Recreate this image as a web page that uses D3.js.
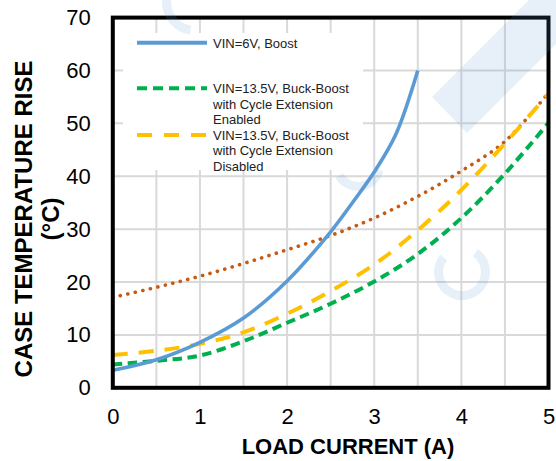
<!DOCTYPE html>
<html><head><meta charset="utf-8">
<script src="https://cdn.jsdelivr.net/npm/d3@7"></script>
<style>body{margin:0;background:#fff}svg{display:block}</style>
</head><body>
<svg id="c" width="556" height="461"></svg>
<script>
// ---- data ----
const xTicks = [0, 1, 2, 3, 4, 5];
const yTicks = [0, 10, 20, 30, 40, 50, 60, 70];
const xGrid = [0.5, 1, 1.5, 2, 2.5, 3, 3.5, 4, 4.5];
const yGrid = [10, 20, 30, 40, 50, 60];
const loadCurrent = [0, 0.5, 1, 1.5, 2, 2.5, 3, 3.5, 4, 4.5, 5];
const boostCurrent = [0, 0.5, 1, 1.5, 2, 2.5, 2.75, 3, 3.25, 3.5];
const boostRise = [3.3, 5.3, 8.6, 13.2, 20.2, 29.5, 35, 40.8, 48, 60];
const cycleExtEnabledRise = [4.4, 5.1, 6.1, 8.8, 12.3, 15.9, 20.1, 25.3, 32.1, 40.5, 50.1];
const cycleExtDisabledRise = [6.2, 7.0, 8.3, 10.5, 14.0, 18.3, 23.3, 29.8, 37.4, 46.2, 55.6];
const unlabeledRise = [17.1, 19.0, 21.1, 23.5, 26.1, 28.8, 32.1, 36.2, 41.0, 46.6, 55.8];
const legendLabels = [
  ["VIN=6V, Boost"],
  ["VIN=13.5V, Buck-Boost", "with Cycle Extension", "Enabled"],
  ["VIN=13.5V, Buck-Boost", "with Cycle Extension", "Disabled"]
];
const xTitle = "LOAD CURRENT (A)";
const yTitle = ["CASE TEMPERATURE RISE", "(°C)"];

// ---- chart ----
const FONT = "'Liberation Sans', Arial, sans-serif";
const svg = d3.select("#c");
const x = d3.scaleLinear().domain([0, 5]).range([112.8, 548.5]);
const y = d3.scaleLinear().domain([0, 70]).range([387.8, 17.6]);

// gridlines
const g = svg.append("g");
g.selectAll("line.v").data(xGrid).join("line")
  .attr("x1", d => x(d)).attr("x2", d => x(d))
  .attr("y1", y(70)).attr("y2", y(0))
  .attr("stroke", "#d9d9d9").attr("stroke-width", 2);
g.selectAll("line.h").data(yGrid).join("line")
  .attr("y1", d => y(d)).attr("y2", d => y(d))
  .attr("x1", x(0)).attr("x2", x(5))
  .attr("stroke", "#d9d9d9").attr("stroke-width", 2);

const line = d3.line().curve(d3.curveCatmullRom.alpha(0.5));
function pts(xs, ys) { return xs.map((v, i) => [x(v), y(ys[i])]); }

svg.append("path").attr("d", line(pts(loadCurrent, unlabeledRise)))
  .attr("fill", "none").attr("stroke", "#c55a11").attr("stroke-width", 3.6)
  .attr("stroke-linecap", "round").attr("stroke-dasharray", "0.1 7.6");
svg.append("path").attr("d", line(pts(loadCurrent, cycleExtDisabledRise)))
  .attr("fill", "none").attr("stroke", "#ffc000").attr("stroke-width", 4)
  .attr("stroke-dasharray", "15 11");
svg.append("path").attr("d", line(pts(loadCurrent, cycleExtEnabledRise)))
  .attr("fill", "none").attr("stroke", "#00b050").attr("stroke-width", 4)
  .attr("stroke-dasharray", "9.5 5.5");
svg.append("path").attr("d", line(pts(boostCurrent, boostRise)))
  .attr("fill", "none").attr("stroke", "#5b9bd5").attr("stroke-width", 3.6);

// legend
const lg = svg.append("g");
lg.append("rect").attr("x", 123).attr("y", 33).attr("width", 240).attr("height", 137).attr("fill", "#fff");
const legendStyles = [
  { color: "#5b9bd5", dash: null, y: 42.7 },
  { color: "#00b050", dash: "10 6", y: 88.3 },
  { color: "#ffc000", dash: "15 12", y: 135 }
];
legendStyles.forEach((s, i) => {
  const l = lg.append("line").attr("x1", 137).attr("x2", 207).attr("y1", s.y).attr("y2", s.y)
    .attr("stroke", s.color).attr("stroke-width", 4);
  if (s.dash) l.attr("stroke-dasharray", s.dash);
  const t = lg.append("text").attr("x", 213).attr("y", s.y).attr("font-family", FONT)
    .attr("font-size", 13).attr("fill", "#222").attr("dominant-baseline", "central");
  legendLabels[i].forEach((txt, j) => {
    t.append("tspan").attr("x", 213).attr("y", s.y + j * 15.4).text(txt);
  });
});

// frame
svg.append("rect").attr("x", x(0)).attr("y", y(70)).attr("width", x(5) - x(0)).attr("height", y(0) - y(70))
  .attr("fill", "none").attr("stroke", "#000").attr("stroke-width", 4);

// axes
const xa = svg.append("g").attr("transform", `translate(0,${y(0)})`)
  .call(d3.axisBottom(x).tickValues(xTicks).tickSize(0).tickPadding(21).tickFormat(d3.format("d")));
xa.select(".domain").remove();
xa.selectAll("text").attr("font-family", FONT).attr("font-size", 22).attr("fill", "#000");
const ya = svg.append("g").attr("transform", `translate(${x(0)},0)`)
  .call(d3.axisLeft(y).tickValues(yTicks).tickSize(0).tickPadding(22).tickFormat(d3.format("d")));
ya.select(".domain").remove();
ya.selectAll("text").attr("font-family", FONT).attr("font-size", 22).attr("fill", "#000");

// titles
svg.append("text").attr("x", 348).attr("y", 454).attr("text-anchor", "middle")
  .attr("font-family", FONT).attr("font-weight", "bold").attr("font-size", 22).text(xTitle);
svg.append("text").attr("transform", "translate(32,219) rotate(-90)").attr("text-anchor", "middle")
  .attr("font-family", FONT).attr("font-weight", "bold").attr("font-size", 24).text(yTitle[0]);
svg.append("text").attr("transform", "translate(59,219) rotate(-90)").attr("text-anchor", "middle")
  .attr("font-family", FONT).attr("font-weight", "bold").attr("font-size", 24).text(yTitle[1]);

// faint watermark overlay
const wm = svg.append("g").attr("fill", "none").attr("stroke", "#5b9bd5").attr("stroke-opacity", 0.15)
  .attr("pointer-events", "none");
wm.append("path").attr("d", "M432,97 L467,133 L556,44 L556,0 L529,0 Z")
  .attr("fill", "#5b9bd5").attr("fill-opacity", 0.15).attr("stroke", "none");
const arc = d3.arc();
wm.append("path").attr("transform", "translate(462,272)")
  .attr("d", arc({ innerRadius: 19, outerRadius: 28, startAngle: 0.6, endAngle: 2 * Math.PI - 0.9 }))
  .attr("fill", "#5b9bd5").attr("fill-opacity", 0.15).attr("stroke", "none");
wm.append("path").attr("transform", "translate(358,165)")
  .attr("d", arc({ innerRadius: 17, outerRadius: 26, startAngle: 1.8, endAngle: 4.2 }))
  .attr("fill", "#5b9bd5").attr("fill-opacity", 0.15).attr("stroke", "none");
wm.append("path").attr("transform", "translate(195,2)")
  .attr("d", arc({ innerRadius: 24, outerRadius: 33, startAngle: 3.3, endAngle: 5.2 }))
  .attr("fill", "#5b9bd5").attr("fill-opacity", 0.15).attr("stroke", "none");
</script>
</body></html>
